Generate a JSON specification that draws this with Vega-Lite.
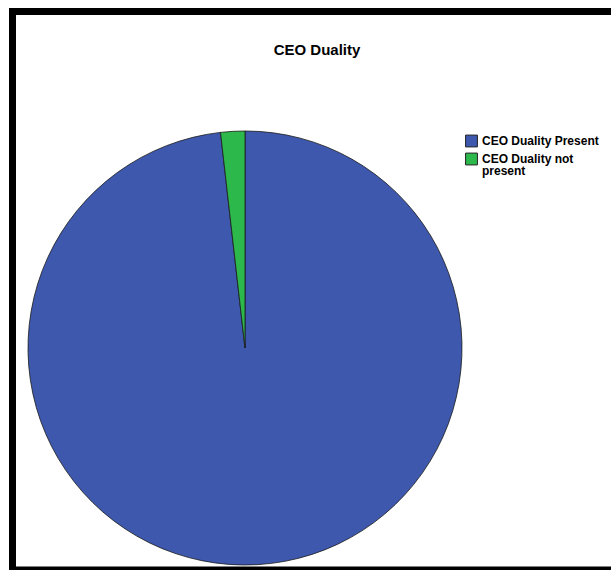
{
  "$schema": "https://vega.github.io/schema/vega-lite/v6.json",
  "autosize": "none",
  "padding": {"left": 12.5, "top": 11.5, "right": 0, "bottom": 0},
  "width": 609,
  "height": 558.5,
  "background": "white",
  "config": {
    "view": {"stroke": "black", "strokeWidth": 7},
    "style": {"guide-label": {"lineHeight": 12}}
  },
  "title": {
    "text": "CEO Duality",
    "font": "Liberation Sans",
    "fontSize": 15,
    "fontWeight": "bold",
    "color": "black",
    "anchor": "middle",
    "frame": "group",
    "orient": "top",
    "baseline": "top",
    "offset": -46
  },
  "data": {
    "values": [
      {"category": "CEO Duality Present", "percent": 98.2, "idx": 1},
      {"category": "CEO Duality not present", "percent": 1.8, "idx": 2}
    ]
  },
  "mark": {"type": "arc", "outerRadius": 217, "stroke": "#1a1a1a", "strokeWidth": 0.8},
  "encoding": {
    "theta": {"field": "percent", "type": "quantitative", "stack": true},
    "order": {"field": "idx", "type": "quantitative"},
    "color": {
      "field": "category",
      "type": "nominal",
      "sort": ["CEO Duality Present", "CEO Duality not present"],
      "scale": {"domain": ["CEO Duality Present", "CEO Duality not present"], "range": ["#3D58AD", "#2DB84B"]},
      "legend": {
        "title": null,
        "orient": "none",
        "legendX": 452.5,
        "legendY": 123,
        "symbolType": "square",
        "symbolSize": 140,
        "symbolStrokeColor": "#222222",
        "symbolStrokeWidth": 1,
        "labelFont": "Liberation Sans",
        "labelFontSize": 12,
        "labelFontWeight": "bold",
        "labelColor": "black",
        "labelLimit": 200,
        "labelExpr": "datum.label == 'CEO Duality not present' ? ['CEO Duality not', 'present'] : datum.label",
        "rowPadding": 1
      }
    },
    "x": {"value": 232.5},
    "y": {"value": 336.5}
  }
}
